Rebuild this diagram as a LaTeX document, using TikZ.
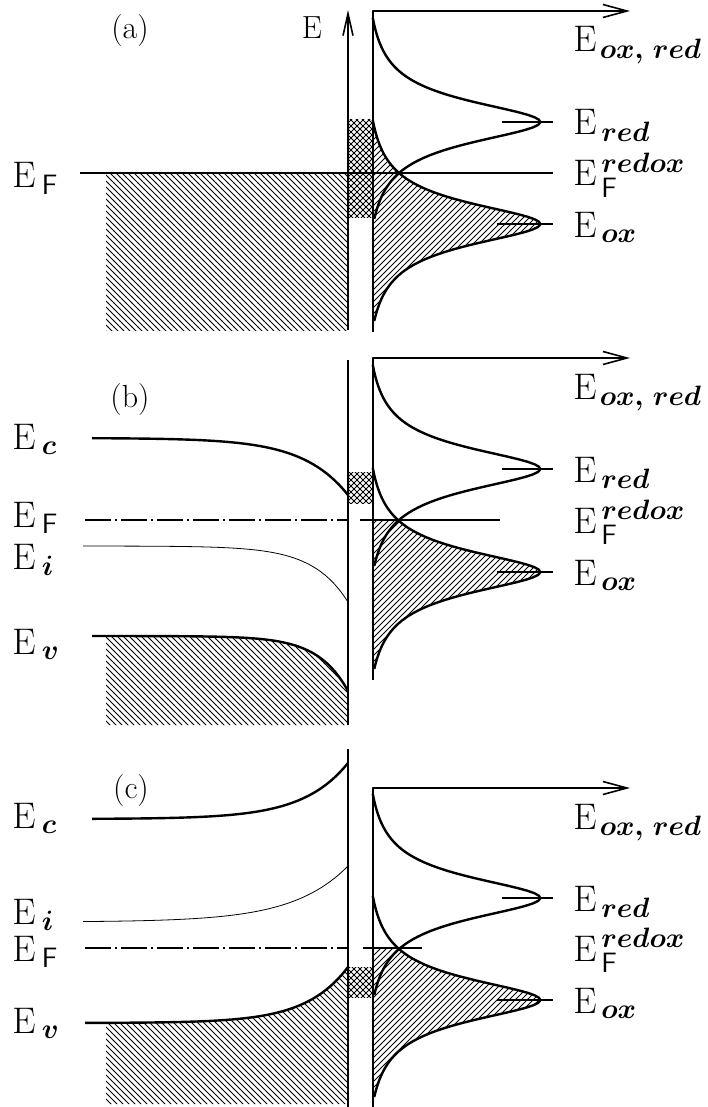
\documentclass[tikz,border=0pt]{standalone}
\usepackage{fix-cm}
\usepackage{amsmath,amssymb}
\usepackage{tikz}
\usetikzlibrary{arrows.meta,patterns}
\DeclareMathSizes{18.5}{18.5}{14}{10}

\begin{document}
\begin{tikzpicture}[x=0.5pt, y=-0.5pt, line join=round,
    axisline/.style={line width=0.8pt},
    dist/.style={line width=1.2pt},
    band/.style={line width=1.2pt},
    thinband/.style={line width=0.4pt},
    fermi/.style={line width=0.9pt},
    dashdot/.style={line width=0.8pt, dash pattern=on 13pt off 2pt on 1pt off 2pt},
    tickline/.style={line width=0.6pt},
    xhatch/.style={pattern=north east lines, postaction={pattern=north west lines}},
    lbl/.style={inner sep=0pt, anchor=base west, font=\fontsize{18.5}{22}\selectfont},
    tag/.style={inner sep=0pt, font=\fontsize{16}{18}\selectfont}]
    \useasboundingbox (0,0) rectangle (707,1107);

    % --- right side: redox distributions, same in all three panels
    \foreach \pn/\ya/\yb/\yr/\yo/\yh/\yf in {a/11/332/122/224/100/173, b/358/680/469/572/520/520, c/788/1107/898/1000/948/948}{
        \begin{scope}
            \clip (373,\yh) rectangle (560,\yb);
            \fill[pattern=north east lines] plot[domain=-104:97, samples=80, variable=\u] ({373+178*(1/(1+(\u/26)^2)-0.06)},{\yo+\u}) -- cycle;
        \end{scope}
        \draw[dist] plot[domain=-104:97, samples=80, variable=\u] ({373+178*(1/(1+(\u/26)^2)-0.06)},{\yr+\u});
        \draw[dist] plot[domain=-104:97, samples=80, variable=\u] ({373+178*(1/(1+(\u/26)^2)-0.06)},{\yo+\u});
        \coordinate (ax\pn) at (373,\ya);
        \draw[axisline, -{Straight Barb[length=12pt, width=6.5pt]}] (373,\yb) -- (ax\pn) -- (630,\ya);
        \draw[tickline] (502,\yr) -- (553,\yr);
        \draw[tickline] (497,\yo) -- (553,\yo);
        \node[lbl] (Eoxred\pn) at (573,\ya+41) {$\mathrm{E}_{\mkern2mu\boldsymbol{ox,}\mkern6mu\boldsymbol{red}}$};
        \node[lbl] (Ered\pn) at (573,\yr+13) {$\mathrm{E}_{\mkern3mu\boldsymbol{red}}$};
        \node[lbl] (EFredox\pn) at (573,\yf+13) {$\mathrm{E}_{\mkern3mu\mathsf{F}}^{\mkern3mu\boldsymbol{redox}}$};
        \node[lbl] (Eox\pn) at (573,\yo+13) {$\mathrm{E}_{\mkern3mu\boldsymbol{ox}}$};
    }

    % --- (a) metal
    \fill[pattern=north west lines] (106,173) rectangle (348,330);
    \path[xhatch] (348,120) rectangle (373,218);
    \draw[fermi] (80,173) -- (553,173);
    \draw[axisline, -{Straight Barb[length=11pt, width=5pt]}] (348,330) -- (348,10);
    \node[tag] (taga) at (130,31) {(a)};
    \node[tag] (Eaxis) at (312,28) {E};
    \node[lbl] (EFa) at (12,188) {$\mathrm{E}_{\mkern4mu\mathsf{F}}$};

    % --- (b) bands bent down
    \path[xhatch] (348,472) rectangle (373,503);
    \fill[pattern=north west lines] (106,725) -- plot[domain=106:348, samples=60] (\x,{636+55*exp((\x-348)/30)}) -- (348,725) -- cycle;
    \draw[band] plot[domain=92:348, samples=60] (\x,{438+57*exp((\x-348)/45)});
    \draw[thinband] plot[domain=83:348, samples=60] (\x,{546+56*exp((\x-348)/35)});
    \draw[band] plot[domain=92:348, samples=60] (\x,{636+55*exp((\x-348)/30)});
    \draw[dashdot] (85,520) -- (348,520);
    \draw[fermi] (360,520) -- (500,520);
    \draw[axisline] (348,360) -- (348,725);
    \node[tag] (tagb) at (130,400) {(b)};
    \node[lbl] (Ecb) at (12,449) {$\mathrm{E}_{\mkern4mu\boldsymbol{c}}$};
    \node[lbl] (EFb) at (12,527) {$\mathrm{E}_{\mkern4mu\mathsf{F}}$};
    \node[lbl] (Eib) at (12,569) {$\mathrm{E}_{\mkern4mu\boldsymbol{i}}$};
    \node[lbl] (Evb) at (12,654) {$\mathrm{E}_{\mkern4mu\boldsymbol{v}}$};

    % --- (c) bands bent up
    \path[xhatch] (348,967) rectangle (373,997);
    \fill[pattern=north west lines] (106,1104) -- plot[domain=106:348, samples=60] (\x,{1023-56*exp((\x-348)/42)}) -- (348,1104) -- cycle;
    \draw[band] plot[domain=92:348, samples=60] (\x,{819-56*exp((\x-348)/45)});
    \draw[thinband] plot[domain=83:348, samples=60] (\x,{922-56*exp((\x-348)/55)});
    \draw[band] plot[domain=85:348, samples=60] (\x,{1023-56*exp((\x-348)/42)});
    \draw[dashdot] (85,948) -- (348,948);
    \draw[fermi] (363,948) -- (422,948);
    \draw[axisline] (348,749) -- (348,1107);
    \node[tag] (tagc) at (131,791) {(c)};
    \node[lbl] (Ecc) at (12,828) {$\mathrm{E}_{\mkern4mu\boldsymbol{c}}$};
    \node[lbl] (Eic) at (12,924) {$\mathrm{E}_{\mkern4mu\boldsymbol{i}}$};
    \node[lbl] (EFc) at (12,961) {$\mathrm{E}_{\mkern4mu\mathsf{F}}$};
    \node[lbl] (Evc) at (12,1033) {$\mathrm{E}_{\mkern4mu\boldsymbol{v}}$};
\end{tikzpicture}
\end{document}
